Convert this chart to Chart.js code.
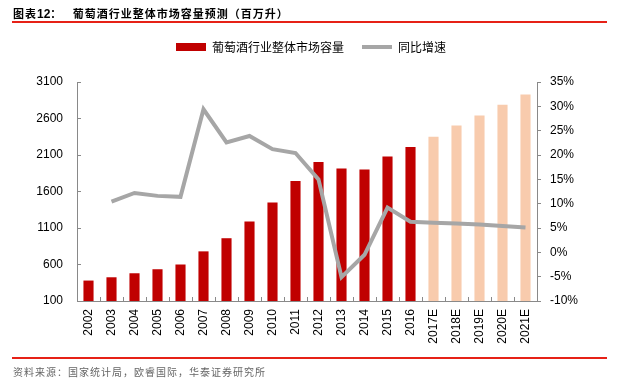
<!DOCTYPE html>
<html>
<head>
<meta charset="utf-8">
<script src="https://cdn.jsdelivr.net/npm/chart.js@4/dist/chart.umd.min.js"></script>
<style>
  body { margin: 0; background: #fff; }
  #wrap { position: relative; width: 622px; height: 383px; overflow: hidden; }
  #c { position: absolute; left: 0; top: 0; }
  .title { position: absolute; left: 13px; top: 5px; font: bold 11px "Noto Sans CJK SC", sans-serif; letter-spacing: 1px; color: #000; white-space: nowrap; }
  .title .no { font-family: "Liberation Sans", Arial, sans-serif; font-size: 12px; letter-spacing: 0; }
  .rule { position: absolute; left: 12px; width: 595px; height: 2px; background: #e62117; }
  .source { position: absolute; left: 13px; top: 364px; font: 10px "Noto Sans CJK SC", sans-serif; letter-spacing: 1px; color: #666; white-space: nowrap; }
</style>
</head>
<body>
<div id="wrap">
  <canvas id="c" width="622" height="383"></canvas>
  <div class="title">图表<span class="no">12</span>：&nbsp;&nbsp;&nbsp;葡萄酒行业整体市场容量预测（百万升）</div>
  <div class="rule" style="top:21px"></div>
  <div class="rule" style="top:357px"></div>
  <div class="source">资料来源：国家统计局，欧睿国际，华泰证券研究所</div>
</div>
<script>
// data
var years = ["2002", "2003", "2004", "2005", "2006", "2007", "2008", "2009", "2010", "2011",
  "2012", "2013", "2014", "2015", "2016", "2017E", "2018E", "2019E", "2020E", "2021E"];
var volume = [380, 425, 480, 535, 600, 780, 960, 1190, 1450, 1745,
  2005, 1915, 1900, 2080, 2210, 2350, 2505, 2640, 2790, 2930];
var growth = [null, 10.4, 12.2, 11.6, 11.4, 29.4, 22.6, 23.9, 21.2, 20.4,
  15.0, -5.1, -0.5, 9.2, 6.3, 6.1, 5.9, 5.7, 5.4, 5.1];
var volumeName = "葡萄酒行业整体市场容量";
var growthName = "同比增速";
var leftTicks = { min: 100, max: 3100, step: 500 };
var rightTicks = { min: -10, max: 35, step: 5 };

var RED = "#c00000";
var PEACH = "#f8cbad";
var GREY = "#a6a6a6";
var AXIS = "#898989";
var tickFont = { family: "'Liberation Sans', Arial, sans-serif", size: 12 };

var barColors = years.map(function (y) {
  return y.indexOf("E") > 0 ? PEACH : RED;
});

// push the plot a bit further below the legend
var legendGap = {
  id: "legendGap",
  afterInit: function (chart) {
    var fit = chart.legend.fit;
    chart.legend.fit = function () {
      fit.call(this);
      this.height += 19;
      if (this._minSize) this._minSize.height = this.height;
    };
  }
};

new Chart(document.getElementById("c"), {
  type: "bar",
  data: {
    labels: years,
    datasets: [
      {
        type: "line",
        label: growthName,
        data: growth,
        yAxisID: "y2",
        borderColor: GREY,
        backgroundColor: GREY,
        borderWidth: 4,
        pointRadius: 0,
        tension: 0,
        order: 0
      },
      {
        label: volumeName,
        data: volume,
        yAxisID: "y",
        backgroundColor: barColors,
        barPercentage: 0.44,
        categoryPercentage: 1,
        order: 1
      }
    ]
  },
  options: {
    responsive: false,
    animation: false,
    layout: { padding: { top: 23, left: 0, right: 0, bottom: 0 } },
    plugins: {
      tooltip: { enabled: false },
      legend: {
        position: "top",
        labels: {
          usePointStyle: true,
          pointStyleWidth: 30,
          boxHeight: 8,
          padding: 18,
          color: "#1a1a1a",
          font: { family: "'Noto Sans CJK SC', sans-serif", size: 12 },
          generateLabels: function () {
            return [
              { text: volumeName, fillStyle: RED, strokeStyle: RED, lineWidth: 0, pointStyle: "rect", datasetIndex: 1 },
              { text: growthName, fillStyle: GREY, strokeStyle: GREY, lineWidth: 4, pointStyle: "line", datasetIndex: 0 }
            ];
          }
        }
      }
    },
    scales: {
      x: {
        grid: { display: true, drawOnChartArea: false, tickLength: -4, color: AXIS, offset: true },
        border: { color: AXIS },
        ticks: { autoSkip: false, minRotation: 90, maxRotation: 90, padding: 12, color: "#000", font: tickFont },
        afterFit: function (s) { s.height = 82; }
      },
      y: {
        position: "left",
        min: leftTicks.min,
        max: leftTicks.max,
        grid: { drawOnChartArea: false, tickLength: -4, color: AXIS },
        border: { color: AXIS },
        ticks: {
          stepSize: leftTicks.step,
          padding: 18,
          color: "#000",
          font: tickFont,
          callback: function (v) { return String(v); }
        },
        afterFit: function (s) { s.width = 77; }
      },
      y2: {
        position: "right",
        min: rightTicks.min,
        max: rightTicks.max,
        grid: { drawOnChartArea: false, tickLength: 4, color: AXIS },
        border: { color: AXIS },
        ticks: {
          stepSize: rightTicks.step,
          padding: 9,
          color: "#000",
          font: tickFont,
          callback: function (v) { return Math.round(v) + "%"; }
        },
        afterFit: function (s) { s.width = 85; }
      }
    }
  },
  plugins: [legendGap]
});
</script>
</body>
</html>
